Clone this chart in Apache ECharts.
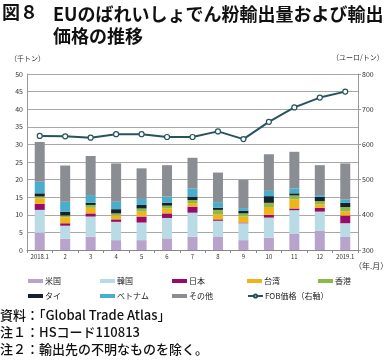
<!DOCTYPE html>
<html><head><meta charset="utf-8">
<script src="https://cdn.jsdelivr.net/npm/echarts@6/dist/echarts.min.js"></script>
<style>html,body{margin:0;padding:0;background:#fff}#c{width:390px;height:360px}</style>
</head><body><div id="c"></div>
<script>
const categories = ['2018.1','2','3','4','5','6','7','8','9','10','11','12','2019.1'];
const us      = [4.9,3.2,3.8,2.8,2.8,3.3,3.8,3.7,2.8,3.5,4.7,5.4,3.7];
const korea   = [6.5,3.7,5.7,5.2,5.0,5.8,6.8,4.6,4.8,5.7,6.6,5.5,3.9];
const japan   = [1.7,0.7,0.9,0.7,1.7,1.3,1.7,0.4,0.2,0.8,0.5,1.1,2.2];
const taiwan  = [1.6,1.7,1.6,1.1,1.4,1.4,1.0,1.5,1.7,2.2,2.6,1.0,1.2];
const hk      = [0.5,0.5,0.8,0.6,0.9,0.8,0.9,1.2,0.9,1.2,1.1,0.9,1.2];
const thai    = [0.9,1.1,0.6,1.2,1.0,0.8,1.0,0.6,0.7,1.9,0.6,1.2,1.2];
const vietnam = [3.3,2.8,2.2,2.1,1.7,1.8,2.3,1.6,0.8,1.5,1.4,0.5,1.0];
const other   = [11.3,10.3,11.1,10.9,8.7,8.9,8.7,8.4,8.0,10.4,10.4,8.5,10.2];
const fob     = [624,623,619,629,629,621,621,637,615,664,705,733,750];

const barNames = ['米国','韓国','日本','台湾','香港','タイ','ベトナム','その他'];
const barData = [us,korea,japan,taiwan,hk,thai,vietnam,other];
const barColors = ['#b8a3cc','#b9dbe6','#9a0a6a','#efb418','#8dba46','#17202e','#48aecb','#8a8e93'];
const lineName = 'FOB価格（右軸）';

const font = '"Noto Sans CJK JP", "Noto Sans", sans-serif';
const chart = echarts.init(document.getElementById('c'), null, {renderer:'canvas'});

const series = barNames.map((n,i)=>({
  name:n, type:'bar', stack:'a', barWidth:10, data:barData[i],
  itemStyle:{color:barColors[i]}, yAxisIndex:0
}));
series.push({
  name:lineName, type:'line', yAxisIndex:1, data:fob,
  symbol:'circle', symbolSize:5, showSymbol:true,
  lineStyle:{color:'#27535d', width:2},
  itemStyle:{color:'#fff', borderColor:'#27535d', borderWidth:1.2}
});

const legendNames = barNames.concat([lineName]);
const legendPos = [[28,277],[100,277],[172,277],[247,277],[318,277],[28,292],[100,292],[172,292],[247,292]];
const legends = legendNames.map((n,i)=>({
  data:[n], left:legendPos[i][0], top:legendPos[i][1],
  itemWidth:15, itemHeight:4, itemGap:2, padding:0,
  icon: n===lineName ? undefined : 'rect',
  textStyle:{fontSize:8, fontFamily:font, color:'#222', padding:[0,0,0,-3]}
}));

chart.setOption({
  animation:false,
  textStyle:{fontFamily:font},
  title:[
    {text:'図８', left:2, top:3, padding:0, textStyle:{fontSize:18, fontWeight:'bold', color:'#111', fontFamily:font}},
    {text:'EUのばれいしょでん粉輸出量および輸出\n価格の推移', left:53, top:3, padding:0,
     textStyle:{fontSize:18, fontWeight:'bold', color:'#111', lineHeight:22, fontFamily:font}}
  ],
  legend:legends,
  grid:{left:27, right:32, top:74, bottom:110},
  xAxis:{type:'category', data:categories,
    axisLine:{lineStyle:{color:'#888'}}, axisTick:{show:true, length:3, lineStyle:{color:'#888'}},
    axisLabel:{fontSize:6, color:'#333', margin:4, interval:0}},
  yAxis:[
    {type:'value', min:0, max:50, interval:5,
     axisLine:{show:true, lineStyle:{color:'#999'}}, axisTick:{show:false},
     axisLabel:{fontSize:7, color:'#333', margin:4},
     splitLine:{lineStyle:{color:'#a8a8a8', width:1}}},
    {type:'value', min:300, max:800, interval:100,
     axisLine:{show:true, lineStyle:{color:'#999'}}, axisTick:{show:true, length:3, lineStyle:{color:'#999'}},
     axisLabel:{fontSize:7, color:'#333', margin:4},
     splitLine:{show:false}}
  ],
  graphic:[
    {type:'text', left:10, top:55, style:{text:'（千トン）', fontSize:7, fill:'#333', fontFamily:font}},
    {type:'text', left:332, top:54, style:{text:'（ユーロ/トン）', fontSize:7, fill:'#333', fontFamily:font}},
    {type:'text', left:354, top:262, style:{text:'（年.月）', fontSize:8, fill:'#333', fontFamily:font}},
    {type:'text', left:0, top:309, style:{text:'資料：「Global Trade Atlas」', fontSize:13, fontWeight:500, fill:'#111', fontFamily:font}},
    {type:'text', left:0, top:326, style:{text:'注１：HSコード110813', fontSize:13, fontWeight:500, fill:'#111', fontFamily:font}},
    {type:'text', left:0, top:343, style:{text:'注２：輸出先の不明なものを除く。', fontSize:13, fontWeight:500, fill:'#111', fontFamily:font}}
  ],
  series:series
});
</script></body></html>
